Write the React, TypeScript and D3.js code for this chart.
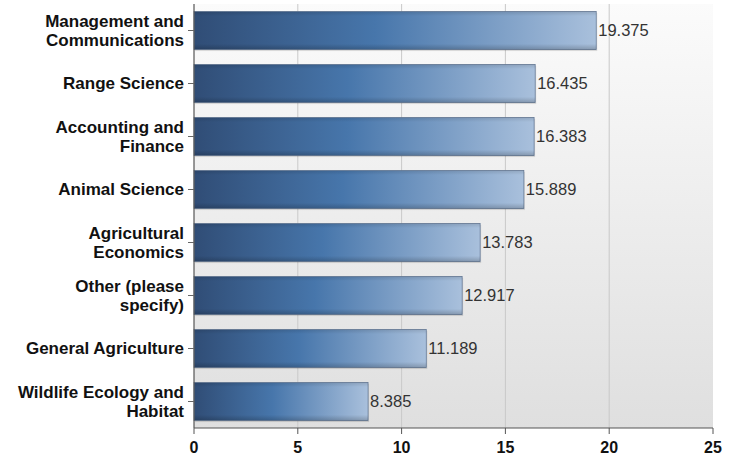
import React, { useEffect } from "react";
import * as d3 from "d3";

const categories: string[][] = [
  ["Management and", "Communications"],
  ["Range Science"],
  ["Accounting and", "Finance"],
  ["Animal Science"],
  ["Agricultural", "Economics"],
  ["Other (please", "specify)"],
  ["General Agriculture"],
  ["Wildlife Ecology and", "Habitat"],
];
const values: number[] = [19.375, 16.435, 16.383, 15.889, 13.783, 12.917, 11.189, 8.385];
const xTicks: number[] = [0, 5, 10, 15, 20, 25];

const W = 734;
const H = 457;
const M = { left: 194, right: 21, top: 4, bottom: 29 };

export default function App() {
  useEffect(() => {
    document.body.style.margin = "0";
  }, []);

  const x = d3.scaleLinear().domain([0, 25]).range([M.left, W - M.right]);
  const idx = categories.map((_, i) => String(i));
  const y = d3.scaleBand().domain(idx).range([M.top, H - M.bottom]).paddingInner(0.28).paddingOuter(0.14);
  const font = "'Liberation Sans', Arial, sans-serif";
  const lh = 19.5;

  return (
    <svg width={W} height={H} style={{ display: "block", position: "absolute", left: 0, top: 0 }}>
      <defs>
        <linearGradient id="bg" x1="0" y1="0" x2="0" y2="1">
          <stop offset="0" stopColor="#fbfbfb" />
          <stop offset="1" stopColor="#dfdfdf" />
        </linearGradient>
        <linearGradient id="barH" x1="0" y1="0" x2="1" y2="0">
          <stop offset="0" stopColor="#304d76" />
          <stop offset="0.45" stopColor="#4776ab" />
          <stop offset="1" stopColor="#a9c0dc" />
        </linearGradient>
        <linearGradient id="barV" x1="0" y1="0" x2="0" y2="1">
          <stop offset="0" stopColor="#000" stopOpacity="0.12" />
          <stop offset="0.12" stopColor="#000" stopOpacity="0" />
          <stop offset="0.85" stopColor="#000" stopOpacity="0" />
          <stop offset="1" stopColor="#000" stopOpacity="0.2" />
        </linearGradient>
      </defs>
      <rect x={M.left} y={M.top} width={x(25) - M.left} height={H - M.bottom - M.top} fill="url(#bg)" />
      {xTicks.slice(1, -1).map((t) => (
        <line key={"g" + t} x1={x(t)} x2={x(t)} y1={M.top} y2={H - M.bottom} stroke="#c9c9c9" strokeWidth={1} />
      ))}
      {values.map((v, i) => {
        const yy = y(String(i))!;
        const bw = x(v) - x(0);
        return (
          <g key={"b" + i}>
            <rect x={x(0) + 1} y={yy + 1.5} width={bw} height={y.bandwidth()} fill="#000" opacity={0.12} />
            <rect x={x(0)} y={yy} width={bw} height={y.bandwidth()} fill="url(#barH)" stroke="#6a7f9c" strokeWidth={0.8} />
            <rect x={x(0)} y={yy} width={bw} height={y.bandwidth()} fill="url(#barV)" />
            <text x={x(v) + 2} y={yy + y.bandwidth() / 2} dy="0.35em" fontFamily={font} fontSize={16.5} fill="#333">
              {v}
            </text>
          </g>
        );
      })}
      <line x1={M.left} x2={M.left} y1={M.top} y2={H - M.bottom} stroke="#555" strokeWidth={1.2} />
      <line x1={M.left} x2={x(25)} y1={H - M.bottom} y2={H - M.bottom} stroke="#555" strokeWidth={1.2} />
      {categories.map((lines, i) => {
        const cy = y(String(i))! + y.bandwidth() / 2;
        return (
          <g key={"c" + i}>
            <line x1={M.left - 6} x2={M.left} y1={cy} y2={cy} stroke="#666" />
            <text x={M.left - 10} textAnchor="end" fontFamily={font} fontWeight="bold" fontSize={17} fill="#111">
              {lines.map((l, j) => (
                <tspan key={j} x={M.left - 10} y={cy + (j - (lines.length - 1) / 2) * lh} dy="0.35em">
                  {l}
                </tspan>
              ))}
            </text>
          </g>
        );
      })}
      {xTicks.map((t) => (
        <g key={"t" + t}>
          <line x1={x(t)} x2={x(t)} y1={H - M.bottom} y2={H - M.bottom + 6} stroke="#555" />
          <text x={x(t)} y={H - 4} textAnchor="middle" fontFamily={font} fontWeight="bold" fontSize={16} fill="#111">
            {t}
          </text>
        </g>
      ))}
    </svg>
  );
}
